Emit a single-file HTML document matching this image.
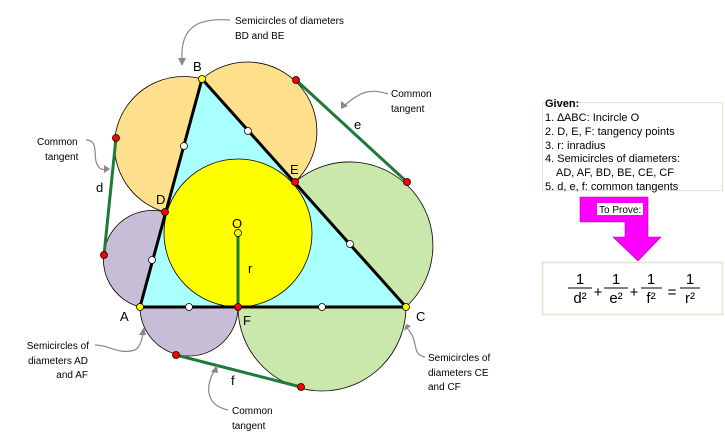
<!DOCTYPE html>
<html><head><meta charset="utf-8"><style>
body{margin:0;background:#fff;}
svg{display:block;font-family:"Liberation Sans",Arial,sans-serif;}
</style></head><body>
<svg width="725" height="438" viewBox="0 0 725 438" xmlns="http://www.w3.org/2000/svg">
<!-- triangle -->
<polygon points="140,307 202,79 406,307" fill="#aaffff"/>
<!-- semicircles -->
<g stroke="#000" stroke-width="0.8">
<path d="M140,307 A49 49 0 0 1 165,212 Z" fill="#c8bdd6"/>
<path d="M165,212 A69 69 0 0 1 202,79 Z" fill="#fddf8c"/>
<path d="M202,79 A69.4 69.4 0 0 1 295,182 Z" fill="#fddf8c"/>
<path d="M295,182 A83.6 83.6 0 0 1 406,307 Z" fill="#cbe8ac"/>
<path d="M406,307 A84 84 0 0 1 238,307 Z" fill="#cbe8ac"/>
<path d="M238,307 A49 49 0 0 1 140,307 Z" fill="#c8bdd6"/>
</g>
<circle cx="238" cy="233" r="74" fill="#ffff00" stroke="#000" stroke-width="0.8"/>
<polygon points="140,307 202,79 406,307" fill="none" stroke="#000" stroke-width="3" stroke-linejoin="round"/>
<!-- tangents -->
<g stroke="#1f7a3a" stroke-width="3">
<line x1="116" y1="138" x2="104" y2="255"/>
<line x1="296" y1="80" x2="407" y2="182"/>
<line x1="176" y1="355" x2="301" y2="387"/>
<line x1="238" y1="233" x2="238" y2="307"/>
</g>
<!-- points -->
<g stroke="#000" stroke-width="0.8">
<g fill="#fff">
<circle cx="184" cy="146" r="3.5"/><circle cx="152" cy="260" r="3.5"/>
<circle cx="248" cy="131" r="3.5"/><circle cx="350" cy="244" r="3.5"/>
<circle cx="189" cy="307" r="3.5"/><circle cx="322" cy="307" r="3.5"/>
</g>
<g fill="#ff0000">
<circle cx="165" cy="212" r="3.5"/><circle cx="295" cy="182" r="3.5"/><circle cx="238" cy="307" r="3.5"/>
<circle cx="116" cy="138" r="3.5"/><circle cx="104" cy="255" r="3.5"/>
<circle cx="296" cy="80" r="3.5"/><circle cx="407" cy="182" r="3.5"/>
<circle cx="176" cy="355" r="3.5"/><circle cx="301" cy="387" r="3.5"/>
</g>
<g fill="#ffff00">
<circle cx="140" cy="307" r="3.5"/><circle cx="202" cy="79" r="3.5"/>
<circle cx="406" cy="307" r="3.5"/><circle cx="238" cy="233" r="3.5"/>
</g>
</g>
<!-- point labels -->
<g font-size="13" fill="#000">
<text x="193" y="71">B</text><text x="156" y="204">D</text><text x="290" y="174">E</text>
<text x="232" y="228">O</text><text x="248" y="273">r</text><text x="120" y="321">A</text>
<text x="243" y="325">F</text><text x="416" y="321">C</text>
<text x="96" y="192">d</text><text x="354" y="129">e</text><text x="231" y="385">f</text>
</g>
<!-- annotation arrows -->
<g stroke="#888" stroke-width="1.2" fill="none">
<path d="M230,20 C200,18 180,25 182,60"/>
<path d="M388,94 C370,88 360,92 345,105"/>
<path d="M86,140 C100,140 92,158 98,166 C100,170 104,170 108,169"/>
<path d="M95,345 C110,345 118,355 135,350 C140,347 142,340 143,333"/>
<path d="M425,357 C412,355 418,342 410,332 C409,330 408,329 407,328"/>
<path d="M228,410 C205,405 205,385 215,370"/>
</g>
<g fill="#888">
<polygon points="178,58 186,58 182,66"/>
<polygon points="341,101 348,106 341,109"/>
<polygon points="104,165 110,169 104,173"/>
<polygon points="139,335 146,335 144,327"/>
<polygon points="404,331 411,326 406,324"/>
<polygon points="211,372 218,373 217,365"/>
</g>
<g font-size="10" fill="#000">
<text x="235" y="24">Semicircles of diameters</text><text x="235" y="39">BD and BE</text>
<text x="391" y="97">Common</text><text x="391" y="112">tangent</text>
<text x="37" y="145">Common</text><text x="45" y="160">tangent</text>
<g text-anchor="end"><text x="89" y="349">Semicircles of</text><text x="88" y="364">diameters AD</text><text x="88" y="378">and AF</text></g>
<text x="428" y="361">Semicircles of</text><text x="428" y="376">diameters CE</text><text x="428" y="390">and CF</text>
<text x="232" y="414">Common</text><text x="232" y="429">tangent</text>
</g>
<!-- Given box -->
<rect x="542.5" y="102.5" width="180" height="88" fill="#fff" stroke="#e8e2cc" stroke-width="1"/>
<g font-size="11" fill="#000">
<text x="545" y="107" font-weight="bold">Given:</text>
<text x="545" y="121">1. ∆ABC: Incircle O</text>
<text x="545" y="135">2. D, E, F: tangency points</text>
<text x="545" y="149">3. r: inradius</text>
<text x="545" y="162">4. Semicircles of diameters:</text>
<text x="556" y="176">AD, AF, BD, BE, CE, CF</text>
<text x="545" y="190">5. d, e, f: common tangents</text>
</g>
<polygon points="580,197 648,197 648,237 661,237 638,261 613,237 625,237 625,222 580,222" fill="#ff00ff" stroke="#b000b0" stroke-width="0.6"/>
<rect x="597" y="203" width="46" height="12" fill="#fff"/>
<text x="599" y="213" font-size="10">To Prove:</text>
<rect x="542.5" y="262.5" width="180" height="52" fill="#fff" stroke="#e8e2cc" stroke-width="1.5"/>
<g font-size="15" text-anchor="middle">
<text x="580" y="284">1</text><line x1="568" y1="288" x2="592" y2="288" stroke="#000"/><text x="580" y="303">d²</text>
<text x="598" y="297">+</text>
<text x="616" y="284">1</text><line x1="604" y1="288" x2="628" y2="288" stroke="#000"/><text x="616" y="303">e²</text>
<text x="634" y="297">+</text>
<text x="651" y="284">1</text><line x1="641" y1="288" x2="662" y2="288" stroke="#000"/><text x="651" y="303">f²</text>
<text x="672" y="297">=</text>
<text x="690" y="284">1</text><line x1="680" y1="288" x2="700" y2="288" stroke="#000"/><text x="690" y="303">r²</text>
</g>
</svg>
</body></html>
